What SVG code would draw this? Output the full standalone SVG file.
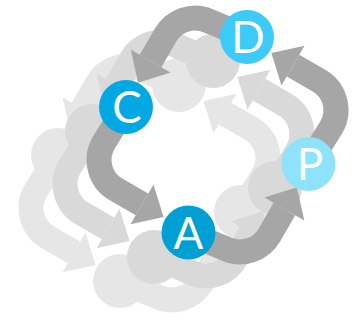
<svg xmlns="http://www.w3.org/2000/svg" xmlns:xlink="http://www.w3.org/1999/xlink" width="355" height="320" viewBox="0 0 355 320">
  <style>
    .band { fill: none; stroke: currentColor; stroke-width: 25; stroke-linejoin: round; }
    .head { fill: currentColor; stroke: none; }
    .ghost { fill: currentColor; }
    .lbl { font-family: Lato, "Open Sans", "Liberation Sans", sans-serif; font-size: 44px; font-weight: 400; fill: #ffffff; text-anchor: middle; }
    .l3 { color: #e6e6e6; }
    .l2 { color: #d9d9d9; }
    .l1 { color: #a6a6a6; }
  </style>
  <defs>
    <g id="arrows">
      <path class="band" d="M247 37 L208.2 20.7 A34 34 0 0 0 165.6 35 L150.6 61"/>
      <polygon class="head" points="130.7,49.5 170.5,72.5 138.1,82.7"/>
      <path class="band" d="M126 107 L104.2 142 A34 34 0 0 0 116 189.4 L142 204.4"/>
      <polygon class="head" points="153.5,184.5 130.5,224.3 163.6,216.9"/>
      <path class="band" d="M188 233 L226.8 249.3 A34 34 0 0 0 269.4 235 L284.4 209"/>
      <polygon class="head" points="304.3,220.5 264.5,197.5 296.9,187.3"/>
      <path class="band" d="M309 163 L330.8 128 A34 34 0 0 0 319 80.6 L293 65.6"/>
      <polygon class="head" points="281.5,85.5 304.5,45.7 271.4,53.1"/>
    </g>
    <g id="ghostLoop">
      <use xlink:href="#arrows"/>
      <circle class="ghost" cx="247" cy="37" r="27"/>
      <circle class="ghost" cx="126" cy="107" r="27"/>
      <circle class="ghost" cx="188" cy="233" r="27"/>
      <circle class="ghost" cx="309" cy="164" r="27"/>
    </g>
  </defs>
  <g id="layer-3" class="l3">
    <use xlink:href="#ghostLoop" transform="translate(-68 48)"/>
  </g>
  <g id="layer-2" class="l2">
    <use xlink:href="#ghostLoop" transform="translate(-34 24)"/>
  </g>
  <g id="connectors" class="l1">
    <use xlink:href="#arrows"/>
  </g>
  <g id="node-D">
    <circle cx="247" cy="37" r="27" fill="#3ccaf9"/>
    <text class="lbl" x="248" y="53">D</text>
  </g>
  <g id="node-C">
    <circle cx="126" cy="107" r="27" fill="#00a9e3"/>
    <text class="lbl" x="127" y="122.5">C</text>
  </g>
  <g id="node-A">
    <circle cx="188.5" cy="232.5" r="27" fill="#00a0d4"/>
    <text class="lbl" x="188.5" y="248.5">A</text>
  </g>
  <g id="node-P">
    <circle cx="308.5" cy="164" r="27" fill="#8ee3fb"/>
    <text class="lbl" x="310" y="180">P</text>
  </g>
</svg>
